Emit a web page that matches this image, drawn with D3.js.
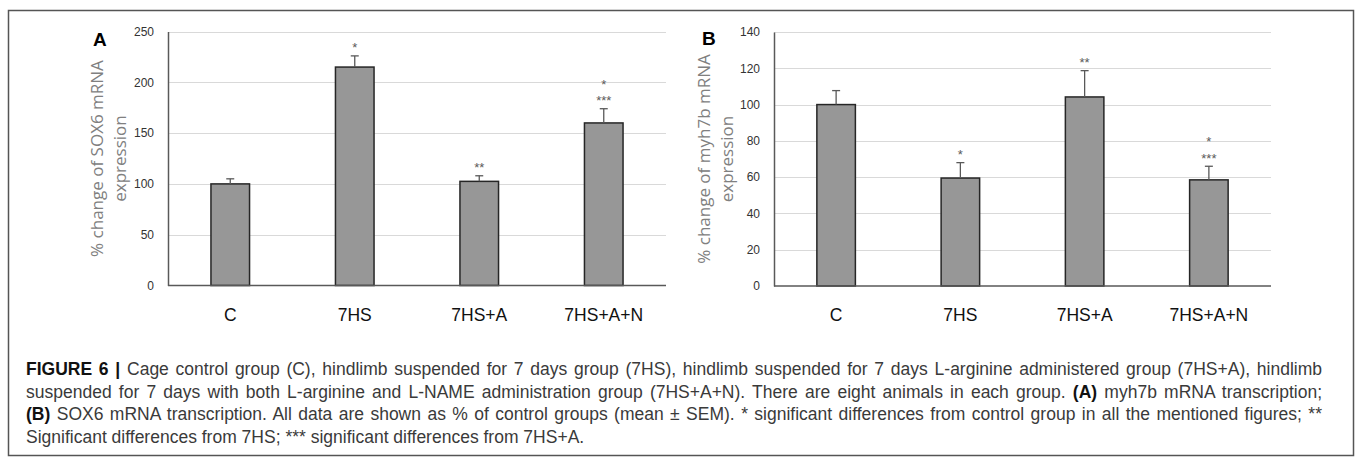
<!DOCTYPE html>
<html lang="en">
<head>
  <meta charset="UTF-8">
  <title>Figure 6 - SOX6 and myh7b mRNA expression</title>
  <style>
    body { margin: 0; background: #fff; }
    svg { display: block; }
    .tick-lab { font-family: "Liberation Sans", sans-serif; font-size: 12px; fill: #333; }
    .cat-lab { font-family: "Liberation Sans", sans-serif; font-size: 17.5px; fill: #111; }
    .y-title { font-family: "Open Sans", sans-serif; font-size: 17px; fill: #808080; }
    .panel-lab { font-family: "Liberation Sans", sans-serif; font-size: 19px; font-weight: bold; fill: #000; }
    .sig { font-family: "Liberation Sans", sans-serif; font-size: 13px; fill: #595959; }
    .caption { font-family: "Liberation Sans", sans-serif; font-size: 17.5px; fill: #3a3a3a; }
  </style>
  <script src="https://d3js.org/d3.v7.min.js"></script>
</head>
<body>
  <svg id="fig" width="1357" height="463"></svg>

  <script>
    // groups on the x axis
    const categories = ['C', '7HS', '7HS+A', '7HS+A+N'];

    // panel A: SOX6
    const sox6Mean = [100, 215, 102.5, 160];
    const sox6Sem = [5, 11, 5.5, 14];
    const sox6Sig = [[], ['*'], ['**'], ['*', '***']];
    const sox6Ticks = [0, 50, 100, 150, 200, 250];

    // panel B: myh7b
    const myh7bMean = [100, 59.5, 104.2, 58.5];
    const myh7bSem = [7.7, 8.5, 14.5, 7.5];
    const myh7bSig = [[], ['*'], ['**'], ['*', '***']];
    const myh7bTicks = [0, 20, 40, 60, 80, 100, 120, 140];

    const svg = d3.select('#fig');

    // outer frame
    svg.append('rect')
      .attr('x', 8.5).attr('y', 10.5)
      .attr('width', 1345).attr('height', 445)
      .attr('fill', 'none')
      .attr('stroke', '#555')
      .attr('stroke-width', 1.5);

    const panels = [
      { letter: 'A', mean: sox6Mean, sem: sox6Sem, sig: sox6Sig, ticks: sox6Ticks,
        title: ['% change  of SOX6  mRNA', 'expression'],
        x0: 168, x1: 666, yTop: 31.5, yBot: 285.5, letterX: 93, letterY: 46, titleX: 97 },
      { letter: 'B', mean: myh7bMean, sem: myh7bSem, sig: myh7bSig, ticks: myh7bTicks,
        title: ['% change  of myh7b mRNA', 'expression'],
        x0: 774, x1: 1271, yTop: 32, yBot: 286, letterX: 702, letterY: 45, titleX: 704 }
    ];

    panels.forEach(p => {
      const g = svg.append('g');
      const yMax = p.ticks[p.ticks.length - 1];

      const x = d3.scaleBand()
        .domain(categories)
        .range([p.x0, p.x1])
        .paddingInner(0.69)
        .paddingOuter(0.345);

      const y = d3.scaleLinear()
        .domain([0, yMax])
        .range([p.yBot, p.yTop]);

      // gridlines
      g.append('g')
        .selectAll('line')
        .data(p.ticks.filter(t => t > 0))
        .join('line')
        .attr('x1', p.x0).attr('x2', p.x1)
        .attr('y1', d => Math.round(y(d)) + 0.5)
        .attr('y2', d => Math.round(y(d)) + 0.5)
        .attr('stroke', '#d9d9d9')
        .attr('stroke-width', 1);

      // y axis
      const yAxis = g.append('g')
        .attr('transform', `translate(${p.x0},0)`)
        .call(d3.axisLeft(y).tickValues(p.ticks).tickSize(0).tickPadding(14));
      yAxis.select('.domain').attr('stroke', '#595959').attr('stroke-width', 1.5);
      yAxis.selectAll('text').attr('class', 'tick-lab').attr('font-family', null).attr('font-size', null).attr('fill', null);

      // bars
      g.append('g')
        .selectAll('rect')
        .data(p.mean)
        .join('rect')
        .attr('x', (d, i) => x(categories[i]))
        .attr('y', d => y(d))
        .attr('width', x.bandwidth())
        .attr('height', d => y(0) - y(d))
        .attr('fill', '#979797')
        .attr('stroke', '#262626')
        .attr('stroke-width', 1.5);

      // error bars (upper only)
      const err = g.append('g')
        .attr('stroke', '#595959')
        .attr('stroke-width', 1.3);
      p.mean.forEach((m, i) => {
        const cx = x(categories[i]) + x.bandwidth() / 2;
        err.append('line')
          .attr('x1', cx).attr('x2', cx)
          .attr('y1', y(m)).attr('y2', y(m + p.sem[i]));
        err.append('line')
          .attr('x1', cx - 4).attr('x2', cx + 4)
          .attr('y1', y(m + p.sem[i])).attr('y2', y(m + p.sem[i]));
      });

      // significance marks, stacked upward above the error bar
      p.sig.forEach((marks, i) => {
        const cx = x(categories[i]) + x.bandwidth() / 2;
        const top = y(p.mean[i] + p.sem[i]);
        marks.slice().reverse().forEach((s, k) => {
          g.append('text')
            .attr('class', 'sig')
            .attr('x', cx)
            .attr('y', top - 11 - k * 16.5 + 7.5)
            .attr('text-anchor', 'middle')
            .text(s);
        });
      });

      // x axis line
      g.append('line')
        .attr('x1', p.x0).attr('x2', p.x1)
        .attr('y1', p.yBot).attr('y2', p.yBot)
        .attr('stroke', '#595959')
        .attr('stroke-width', 1.5);

      // category labels
      g.append('g')
        .selectAll('text')
        .data(categories)
        .join('text')
        .attr('class', 'cat-lab')
        .attr('x', d => x(d) + x.bandwidth() / 2)
        .attr('y', 320.5)
        .attr('text-anchor', 'middle')
        .text(d => d);

      // y title (two lines, rotated)
      const mid = (p.yTop + p.yBot) / 2;
      p.title.forEach((t, k) => {
        g.append('text')
          .attr('class', 'y-title')
          .attr('transform', `translate(${p.titleX + k * 22.5 + 6},${mid}) rotate(-90)`)
          .attr('text-anchor', 'middle')
          .text(t);
      });

      // panel letter
      g.append('text')
        .attr('class', 'panel-lab')
        .attr('x', p.letterX)
        .attr('y', p.letterY)
        .text(p.letter);
    });

    // caption, justified to the frame width except the last line
    const captionLines = [
      [['FIGURE 6 | ', true], ['Cage control group (C), hindlimb suspended for 7 days group (7HS), hindlimb suspended for 7 days L-arginine administered group (7HS+A), hindlimb', false]],
      [['suspended for 7 days with both L-arginine and L-NAME administration group (7HS+A+N). There are eight animals in each group. ', false], ['(A)', true], [' myh7b mRNA transcription;', false]],
      [['(B)', true], [' SOX6 mRNA transcription. All data are shown as % of control groups (mean \u00B1 SEM). * significant differences from control group in all the mentioned figures; **', false]],
      [['Significant differences from 7HS; *** significant differences from 7HS+A.', false]]
    ];
    const capX = 26, capW = 1296, capY0 = 375, capStep = 22.5;

    captionLines.forEach((parts, li) => {
      const t = svg.append('text')
        .attr('class', 'caption')
        .attr('x', capX)
        .attr('y', capY0 + li * capStep);
      parts.forEach(([s, bold]) => {
        t.append('tspan')
          .attr('font-weight', bold ? 'bold' : null)
          .attr('fill', bold ? '#111' : null)
          .text(s);
      });
      if (li < captionLines.length - 1) {
        const natural = t.node().getComputedTextLength();
        const spaces = parts.map(d => d[0]).join('').split(' ').length - 1;
        t.attr('word-spacing', (capW - natural) / spaces);
      }
    });
  </script>
</body>
</html>
